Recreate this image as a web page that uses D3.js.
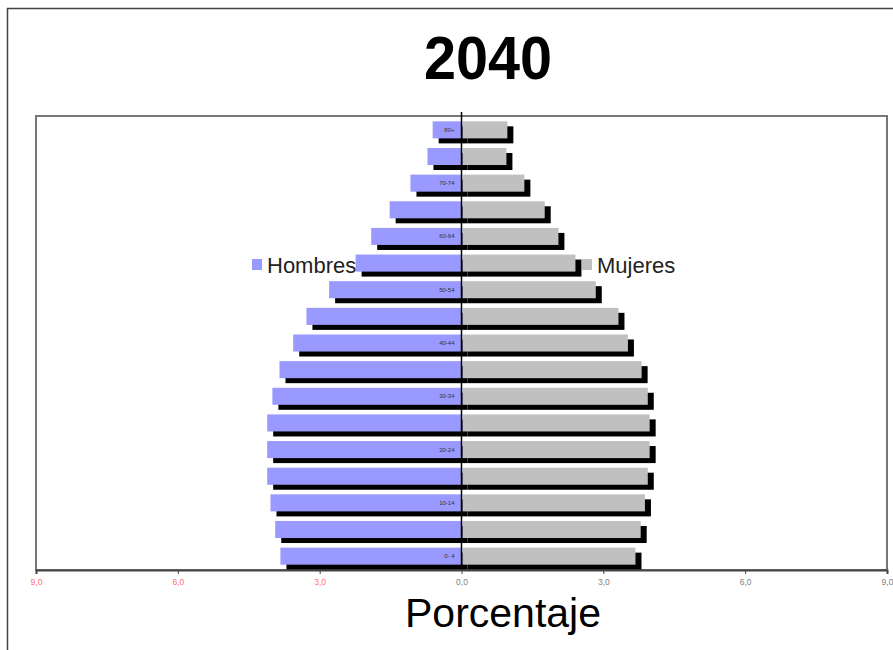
<!DOCTYPE html>
<html>
<head>
<meta charset="utf-8">
<script src="https://cdn.jsdelivr.net/npm/d3@7"></script>
<style>
  html, body { margin: 0; padding: 0; background: #fff; }
  svg { display: block; font-family: "Liberation Sans", Arial, sans-serif; }
</style>
</head>
<body>
<svg id="chart" width="893" height="650"></svg>
<script>
// ---- data ----
const ageGroups = ["80+","75-79","70-74","65-69","60-64","55-59","50-54","45-49","40-44",
                   "35-39","30-34","25-29","20-24","15-19","10-14","5-9","0- 4"];
const ageTickLabels = ["80+","70-74","60-64","50-54","40-44","30-34","20-24","10-14","0- 4"];
const hombres = [0.61,0.72,1.08,1.52,1.91,2.24,2.80,3.28,3.56,3.85,4.00,4.11,4.11,4.11,4.04,3.94,3.83];
const mujeres = [0.97,0.95,1.33,1.76,2.05,2.41,2.84,3.32,3.52,3.81,3.94,3.98,3.98,3.94,3.88,3.79,3.68];
const xTicks = [-9,-6,-3,0,3,6,9];
const title = "2040";
const xTitle = "Porcentaje";
const seriesNames = ["Hombres","Mujeres"];

// ---- layout ----
const svg = d3.select("#chart");
const plot = {left: 36, right: 887, top: 116, bottom: 570};
const colMen = "#9999ff", colWomen = "#c0c0c0";
const shadowDx = 6, shadowDy = 5;

// outer frame
svg.append("rect").attr("x", 7.5).attr("y", 8.5).attr("width", 900).attr("height", 660)
  .attr("fill", "none").attr("stroke", "#444").attr("stroke-width", 1.5);

// title
svg.append("text").attr("x", 488).attr("y", 79).attr("text-anchor", "middle")
  .attr("font-size", 61).attr("font-weight", "bold").attr("textLength", 128)
  .attr("lengthAdjust", "spacingAndGlyphs").text(title);

const x = d3.scaleLinear().domain([-9, 9]).range([plot.left, plot.right]);
const y = d3.scaleBand().domain(ageGroups).range([plot.top, plot.bottom])
  .paddingInner(0.36).paddingOuter(0.2);

// plot area border
svg.append("rect").attr("x", plot.left).attr("y", plot.top)
  .attr("width", plot.right - plot.left).attr("height", plot.bottom - plot.top)
  .attr("fill", "#fff").attr("stroke", "#777").attr("stroke-width", 2);

const rows = ageGroups.map((a, i) => ({age: a, m: hombres[i], w: mujeres[i]}));

// shadows
const g = svg.append("g");
g.selectAll("rect.sm").data(rows).join("rect").attr("class", "sm")
  .attr("x", d => x(-d.m) + shadowDx).attr("y", d => y(d.age) + shadowDy)
  .attr("width", d => x(0) - x(-d.m)).attr("height", y.bandwidth()).attr("fill", "#000");
g.selectAll("rect.sw").data(rows).join("rect").attr("class", "sw")
  .attr("x", x(0) + shadowDx).attr("y", d => y(d.age) + shadowDy)
  .attr("width", d => x(d.w) - x(0)).attr("height", y.bandwidth()).attr("fill", "#000");
// bars
g.selectAll("rect.bm").data(rows).join("rect").attr("class", "bm")
  .attr("x", d => x(-d.m)).attr("y", d => y(d.age))
  .attr("width", d => x(0) - x(-d.m)).attr("height", y.bandwidth()).attr("fill", colMen);
g.selectAll("rect.bw").data(rows).join("rect").attr("class", "bw")
  .attr("x", x(0) + 1).attr("y", d => y(d.age))
  .attr("width", d => x(d.w) - x(0) - 1).attr("height", y.bandwidth()).attr("fill", colWomen);

// center axis
svg.append("line").attr("x1", x(0)).attr("x2", x(0)).attr("y1", plot.top - 4).attr("y2", plot.bottom)
  .attr("stroke", "#000").attr("stroke-width", 1.5);

// age labels
svg.append("g").selectAll("text").data(ageTickLabels).join("text")
  .attr("x", x(0) - 7).attr("y", d => y(d) + y.bandwidth() / 2 + 2)
  .attr("text-anchor", "end").attr("font-size", 6).attr("fill", "#333").text(d => d);

// x axis
const xAxis = d3.axisBottom(x).tickValues(xTicks).tickSize(4).tickPadding(5)
  .tickFormat(d => d3.format(".1f")(Math.abs(d)).replace(".", ","));
const ax = svg.append("g").attr("transform", `translate(0,${plot.bottom})`).call(xAxis);
ax.select(".domain").attr("stroke", "#444").attr("stroke-width", 2);
ax.selectAll(".tick line").attr("stroke", "#444");
ax.selectAll(".tick text").attr("font-size", 8.5)
  .attr("font-family", "'Liberation Sans', Arial, sans-serif")
  .attr("fill", d => d < 0 ? "#ff7070" : "#808080");

// x title
svg.append("text").attr("x", 503).attr("y", 627).attr("text-anchor", "middle")
  .attr("font-size", 41).attr("fill", "#000").text(xTitle);

// legend
const leg = [{name: seriesNames[0], color: colMen, x: 252}, {name: seriesNames[1], color: colWomen, x: 582}];
const lg = svg.append("g").selectAll("g").data(leg).join("g")
  .attr("transform", d => `translate(${d.x},259)`);
lg.append("rect").attr("width", 10).attr("height", 11).attr("fill", d => d.color);
lg.append("text").attr("x", 15).attr("y", 14).attr("font-size", 22).attr("fill", "#222").text(d => d.name);
</script>
</body>
</html>
